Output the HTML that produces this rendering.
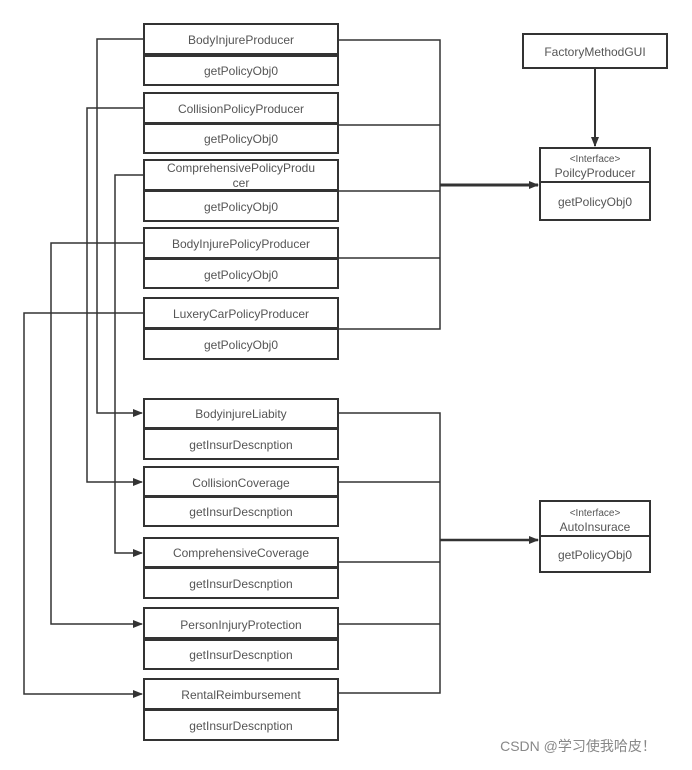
<!DOCTYPE html>
<html><head><meta charset="utf-8"><style>
body{margin:0;background:#fff;width:692px;height:765px;overflow:hidden}
svg text{font-family:"Liberation Sans","Noto Sans CJK SC",sans-serif;fill:#555;font-size:12px;text-anchor:middle}
</style></head><body>
<svg width="692" height="765" viewBox="0 0 692 765">
<defs><marker id="a" markerWidth="10" markerHeight="8" refX="9" refY="4" orient="auto" markerUnits="userSpaceOnUse"><path d="M0,0L10,4L0,8z" fill="#333"/></marker></defs>
<g fill="none" stroke="#333" stroke-width="1.5">
<!-- right buses -->
<polyline points="338,40 440,40 440,329 338,329"/>
<line x1="338" y1="125" x2="440" y2="125"/>
<line x1="338" y1="191" x2="440" y2="191"/>
<line x1="338" y1="258" x2="440" y2="258"/>
<line x1="440" y1="185" x2="538" y2="185" stroke-width="3" marker-end="url(#a)"/>
<polyline points="338,413 440,413 440,693 338,693"/>
<line x1="338" y1="482" x2="440" y2="482"/>
<line x1="338" y1="562" x2="440" y2="562"/>
<line x1="338" y1="624" x2="440" y2="624"/>
<line x1="440" y1="540" x2="538" y2="540" stroke-width="2.5" marker-end="url(#a)"/>
<line x1="595" y1="68" x2="595" y2="146" stroke-width="2" marker-end="url(#a)"/>
<!-- left lines -->
<polyline points="144,39 97,39 97,413 142,413" marker-end="url(#a)"/>
<polyline points="144,108 87,108 87,482 142,482" marker-end="url(#a)"/>
<polyline points="144,175 115,175 115,553 142,553" marker-end="url(#a)"/>
<polyline points="144,243 51,243 51,624 142,624" marker-end="url(#a)"/>
<polyline points="144,313 24,313 24,694 142,694" marker-end="url(#a)"/>
</g>
<g fill="#fff" stroke="#333" stroke-width="2">
<rect x="144" y="24" width="194" height="30"/><rect x="144" y="56" width="194" height="29"/>
<rect x="144" y="93" width="194" height="30"/><rect x="144" y="124" width="194" height="29"/>
<rect x="144" y="160" width="194" height="30"/><rect x="144" y="191" width="194" height="30"/>
<rect x="144" y="228" width="194" height="30"/><rect x="144" y="259" width="194" height="29"/>
<rect x="144" y="298" width="194" height="30"/><rect x="144" y="329" width="194" height="30"/>
<rect x="144" y="399" width="194" height="29"/><rect x="144" y="429" width="194" height="30"/>
<rect x="144" y="467" width="194" height="29"/><rect x="144" y="497" width="194" height="29"/>
<rect x="144" y="538" width="194" height="29"/><rect x="144" y="568" width="194" height="30"/>
<rect x="144" y="608" width="194" height="30"/><rect x="144" y="640" width="194" height="29"/>
<rect x="144" y="679" width="194" height="30"/><rect x="144" y="710" width="194" height="30"/>
<rect x="523" y="34" width="144" height="34"/>
<rect x="540" y="148" width="110" height="34"/><rect x="540" y="182" width="110" height="38"/>
<rect x="540" y="501" width="110" height="35"/><rect x="540" y="536" width="110" height="36"/>
</g>
<text x="241" y="44">BodyInjureProducer</text><text x="241" y="75">getPolicyObj0</text>
<text x="241" y="113">CollisionPolicyProducer</text><text x="241" y="143">getPolicyObj0</text>
<text x="241" y="172">ComprehensivePolicyProdu</text><text x="241" y="187">cer</text><text x="241" y="211">getPolicyObj0</text>
<text x="241" y="248">BodyInjurePolicyProducer</text><text x="241" y="279">getPolicyObj0</text>
<text x="241" y="318">LuxeryCarPolicyProducer</text><text x="241" y="349">getPolicyObj0</text>
<text x="241" y="418">BodyinjureLiabity</text><text x="241" y="449">getInsurDescnption</text>
<text x="241" y="487">CollisionCoverage</text><text x="241" y="516">getInsurDescnption</text>
<text x="241" y="557">ComprehensiveCoverage</text><text x="241" y="588">getInsurDescnption</text>
<text x="241" y="629">PersonInjuryProtection</text><text x="241" y="659">getInsurDescnption</text>
<text x="241" y="699">RentalReimbursement</text><text x="241" y="730">getInsurDescnption</text>
<text x="595" y="56">FactoryMethodGUI</text>
<text x="595" y="162" style="font-size:10px">&lt;Interface&gt;</text><text x="595" y="177">PoilcyProducer</text>
<text x="595" y="206">getPolicyObj0</text>
<text x="595" y="516" style="font-size:10px">&lt;Interface&gt;</text><text x="595" y="531">AutoInsurace</text>
<text x="595" y="559">getPolicyObj0</text>
<text x="578" y="751" style="font-size:14px;fill:#888">CSDN @学习使我哈皮！</text>
</svg>
</body></html>
